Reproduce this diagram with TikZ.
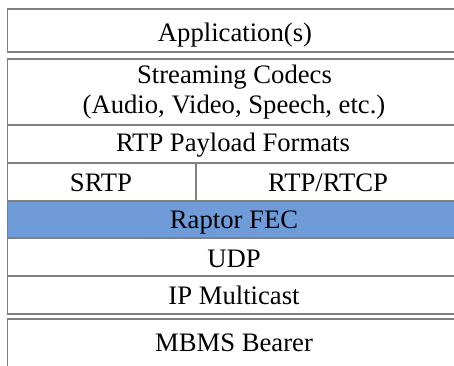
\documentclass[tikz,border=0pt]{standalone}
\usepackage{fontspec}
\setmainfont{Liberation Serif}
\definecolor{linegray}{RGB}{128,128,128}
\definecolor{raptorblue}{RGB}{111,156,216}
\tikzset{
  layer/.style={draw=linegray, line width=1.4pt},
  lbl/.style={anchor=base, inner sep=0pt, font=\fontsize{20}{23}\selectfont},
}
\begin{document}
\begin{tikzpicture}[x=0.75pt,y=-0.75pt]
\useasboundingbox (0,0) rectangle (454,365);
\clip (0,0) rectangle (454,365);
% boxes
\path[layer] (7.5,8.7) rectangle (464.5,52);
\path[layer] (7.5,58.7) rectangle (464.5,125);
\path[layer] (7.5,125) rectangle (464.5,163);
\path[layer] (7.5,163) rectangle (196,200.7);
\path[layer] (196,163) rectangle (464.5,200.7);
\path[layer, fill=raptorblue] (7.5,200.7) rectangle (464.5,238);
\path[layer] (7.5,238) rectangle (464.5,276);
\path[layer] (7.5,276) rectangle (464.5,314);
\path[layer] (7.5,319) rectangle (464.5,390);
% labels
\node[lbl] (app) at (235,41.7) {Application(s)};
\node[lbl] (codec1) at (234.5,83) {Streaming Codecs};
\node[lbl] (codec2) at (234,113.5) {(Audio, Video, Speech, etc.)};
\node[lbl] (payload) at (233,151.7) {RTP Payload Formats};
\node[lbl] (srtp) at (101,191) {SRTP};
\node[lbl] (rtp) at (328,191) {RTP/RTCP};
\node[lbl] (fec) at (234,228) {Raptor FEC};
\node[lbl] (udp) at (234,267) {UDP};
\node[lbl] (ip) at (234,304) {IP Multicast};
\node[lbl] (mbms) at (234,351.7) {MBMS Bearer};
\end{tikzpicture}
\end{document}
